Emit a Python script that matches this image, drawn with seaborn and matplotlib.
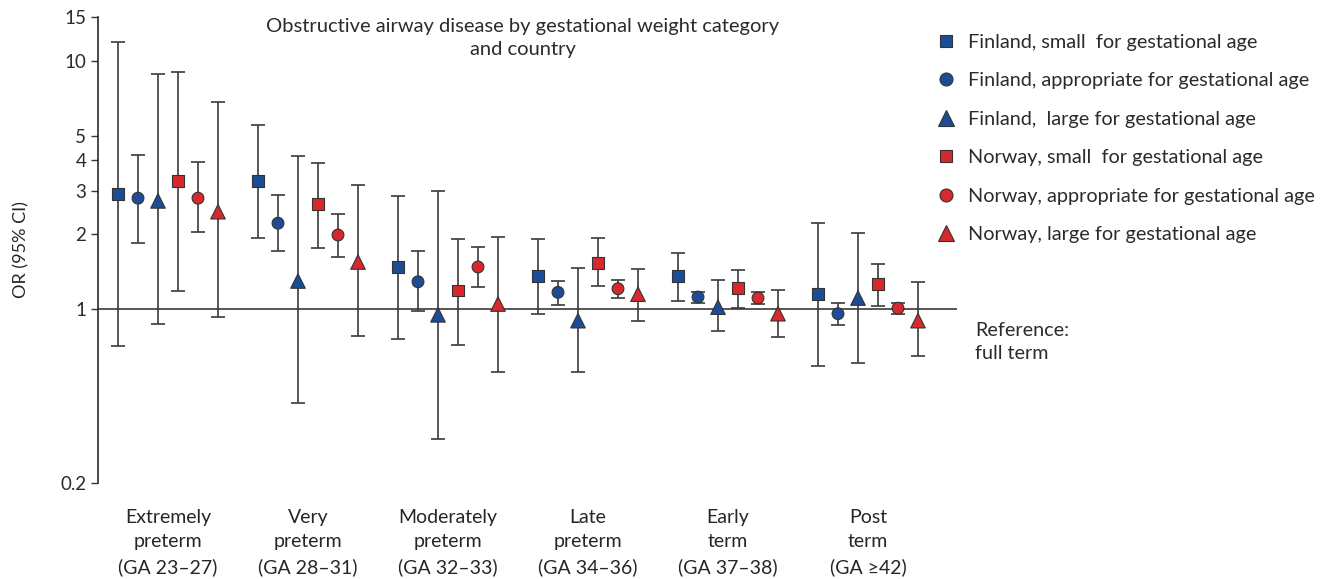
#!/usr/bin/env python3
"""Obstructive airway disease OR by gestational age/weight category and country."""

import pandas as pd
import matplotlib.pyplot as plt
import seaborn as sns

# ── Data ──────────────────────────────────────────────────────────────────────
groups = [
    "Extremely\npreterm\n(GA 23–27)",
    "Very\npreterm\n(GA 28–31)",
    "Moderately\npreterm\n(GA 32–33)",
    "Late\npreterm\n(GA 34–36)",
    "Early\nterm\n(GA 37–38)",
    "Post\nterm\n(GA ≥42)",
]
series = [
    "Finland, small  for gestational age",
    "Finland, appropriate for gestational age",
    "Finland,  large for gestational age",
    "Norway, small  for gestational age",
    "Norway, appropriate for gestational age",
    "Norway, large for gestational age",
]
or_fi_sga = [2.90, 3.28, 1.48, 1.36, 1.36, 1.15]
lo_fi_sga = [0.71, 1.93, 0.76, 0.96, 1.08, 0.59]
hi_fi_sga = [11.9, 5.50, 2.86, 1.91, 1.69, 2.22]

or_fi_aga = [2.80, 2.22, 1.29, 1.17, 1.12, 0.96]
lo_fi_aga = [1.84, 1.71, 0.98, 1.04, 1.06, 0.865]
hi_fi_aga = [4.17, 2.88, 1.71, 1.30, 1.17, 1.06]

or_fi_lga = [2.73, 1.30, 0.95, 0.90, 1.02, 1.11]
lo_fi_lga = [0.87, 0.42, 0.30, 0.56, 0.82, 0.61]
hi_fi_lga = [8.82, 4.14, 2.98, 1.47, 1.31, 2.02]

or_no_sga = [3.28, 2.65, 1.19, 1.54, 1.22, 1.26]
lo_no_sga = [1.19, 1.77, 0.72, 1.24, 1.01, 1.03]
hi_no_sga = [9.04, 3.87, 1.91, 1.93, 1.44, 1.52]

or_no_aga = [2.80, 1.99, 1.48, 1.21, 1.11, 1.01]
lo_no_aga = [2.04, 1.62, 1.23, 1.11, 1.05, 0.96]
hi_no_aga = [3.90, 2.41, 1.78, 1.31, 1.17, 1.06]

or_no_lga = [2.47, 1.55, 1.05, 1.15, 0.96, 0.90]
lo_no_lga = [0.93, 0.78, 0.56, 0.90, 0.77, 0.65]
hi_no_lga = [6.85, 3.16, 1.96, 1.45, 1.20, 1.29]

yticks = [0.2, 1, 2, 3, 4, 5, 10, 15]

or_vals = [or_fi_sga, or_fi_aga, or_fi_lga, or_no_sga, or_no_aga, or_no_lga]
lo_vals = [lo_fi_sga, lo_fi_aga, lo_fi_lga, lo_no_sga, lo_no_aga, lo_no_lga]
hi_vals = [hi_fi_sga, hi_fi_aga, hi_fi_lga, hi_no_sga, hi_no_aga, hi_no_lga]

# ── Style ─────────────────────────────────────────────────────────────────────
BLUE = "#1d4c97"
RED = "#d7282e"
palette = dict(zip(series, [BLUE, BLUE, BLUE, RED, RED, RED]))
markers = dict(zip(series, ["s", "o", "^", "s", "o", "^"]))
sizes = dict(zip(series, [72, 72, 110, 72, 72, 110]))

sns.set_theme(style="ticks")
plt.rcParams["font.family"] = ["Lato", "DejaVu Sans"]
plt.rcParams["text.color"] = "#2b2b2b"

# long table: one row per point
rows = []
for si, name in enumerate(series):
    for gi in range(len(groups)):
        rows.append({
            "x": gi * 7 + si,
            "OR": or_vals[si][gi],
            "lo": lo_vals[si][gi],
            "hi": hi_vals[si][gi],
            "series": name,
        })
df = pd.DataFrame(rows)

fig = plt.figure(figsize=(13.22, 5.79), dpi=100)
W, H = 1322, 579
ax = fig.add_axes([98 / W, 1 - 483 / H, (957 - 98) / W, (483 - 17) / H])

ax.axhline(1, color="#3a3a3a", linewidth=1.2, zorder=1)
ax.errorbar(
    df["x"], df["OR"], yerr=[df["OR"] - df["lo"], df["hi"] - df["OR"]],
    fmt="none", ecolor="#3a3a3a", elinewidth=1.2, capsize=4.8, capthick=1.2, zorder=2,
)
sns.scatterplot(
    data=df, x="x", y="OR", hue="series", style="series", size="series",
    palette=palette, markers=markers, sizes=sizes, edgecolor="#333333", linewidth=0.8,
    ax=ax, zorder=3, legend="full",
)

ax.set_yscale("log")
ax.set_ylim(0.2, 15)
ax.set_xlim(-1, 41.95)
ax.set_yticks(yticks)
ax.set_yticklabels([f"{t:g}" for t in yticks])
ax.minorticks_off()
ax.tick_params(axis="y", length=5, width=1, color="#333333", labelsize=13.5, labelcolor="#2b2b2b")
ax.set_xticks([gi * 7 + 2.5 for gi in range(len(groups))])
ax.set_xticklabels(groups, fontsize=14, linespacing=1.5)
ax.tick_params(axis="x", length=0, pad=19)
ax.set_xlabel("")
ax.set_ylabel("OR (95% CI)", fontsize=13, labelpad=22)
for side in ["top", "right", "bottom"]:
    ax.spines[side].set_visible(False)
ax.spines["left"].set_color("#333333")

ax.set_title(
    "Obstructive airway disease by gestational weight category\nand country",
    fontsize=14.5, x=(523 - 98) / (957 - 98), y=1.0, pad=-27, linespacing=1.4,
)

fig.text(975 / W, 1 - 322 / H, "Reference:\nfull term", fontsize=14.2,
         va="top", ha="left", linespacing=1.45)

handles, labels = ax.get_legend_handles_labels()
ax.get_legend().remove()
fig.legend(
    handles, labels, loc="upper left", bbox_to_anchor=(926 / W, 1 - 34 / H),
    frameon=False, fontsize=14.3, handletextpad=0.1, labelspacing=1.08,
    markerscale=1.1, borderaxespad=0, borderpad=0,
)

fig.savefig("out.png", dpi=100)
